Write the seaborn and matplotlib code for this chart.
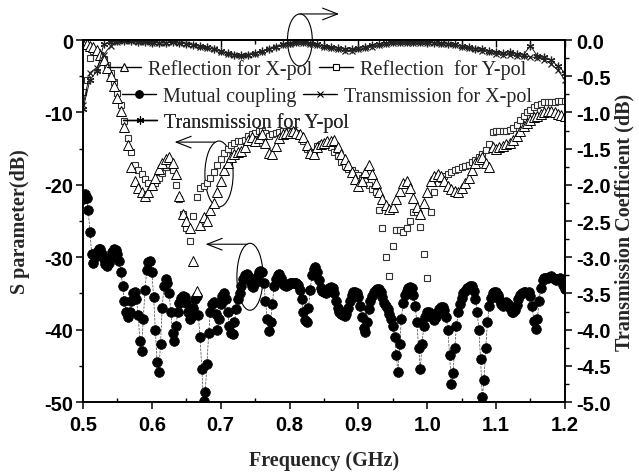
import numpy as np
import matplotlib.pyplot as plt
import seaborn as sns
from matplotlib.lines import Line2D
from matplotlib.patches import Ellipse
from matplotlib.ticker import MultipleLocator, FormatStrFormatter

sns.set_theme(style='ticks')
plt.rcParams['axes.unicode_minus'] = False
plt.rcParams['font.family'] = ['Liberation Sans', 'DejaVu Sans']

# frequency grids (GHz)
freq = np.round(np.linspace(0.5, 1.2, 141), 4)     # reflections
freq_c = np.round(np.linspace(0.5, 1.2, 281), 4)   # mutual coupling
freq_t = np.round(np.linspace(0.5, 1.2, 71), 2)    # transmission

refl_x = [
    -0.5, -0.6, -0.8, -1.0, -1.4, -2.0, -2.8, -3.8, -5.0, -6.4,
    -8.0, -9.8, -12.0, -14.5, -17.5, -19.5, -20.5, -21.0, -21.5, -21.0,
    -20.0, -19.0, -17.8, -17.0, -16.5, -16.2, -17.0, -18.5, -21.5, -24.0,
    -25.0, -26.0, -30.5, -34.7, -25.5, -24.5, -25.0, -23.5, -22.5, -21.0,
    -19.5, -18.0, -17.0, -16.2, -15.8, -15.5, -15.3, -14.8, -13.8, -13.4,
    -14.0, -13.5, -13.0, -14.2, -15.6, -15.8, -14.6, -13.5, -13.0, -12.8,
    -12.8, -12.6, -12.8, -13.0, -13.4, -14.5, -15.6, -15.8, -14.8, -14.4,
    -14.2, -14.0, -14.0, -13.8, -14.8, -15.8, -16.5, -17.2, -18.2, -19.2,
    -20.2, -19.5, -18.2, -17.2, -18.5, -19.8, -21.0, -22.0, -22.8, -23.3,
    -23.0, -22.0, -20.8, -19.8, -19.5, -20.5, -21.8, -23.0, -24.0, -22.5,
    -21.0, -19.5, -18.8, -18.5, -18.8, -19.5, -20.2, -20.6, -20.9, -21.0,
    -20.5, -19.8, -19.0, -18.0, -17.0, -16.4, -16.2, -17.0, -17.5, -14.8,
    -15.0, -14.8, -14.6, -14.4, -14.2, -13.8, -13.2, -12.5, -11.9, -11.4,
    -11.0, -10.7, -10.5, -10.2, -10.0, -9.8, -9.8, -10.0, -10.2, -10.4,
    -10.5]

refl_y = [
    -7.2, -5.5, -2.5, -1.5, -1.6, -2.0, -2.6, -3.4, -4.5, -5.8,
    -7.3, -9.0, -11.2, -13.5, -15.5, -17.2, -18.0, -18.5, -19.2, -19.8,
    -20.3, -19.8, -19.0, -18.3, -17.6, -17.3, -18.0, -20.0, -22.0, -24.0,
    -26.0, -27.8, -24.3, -21.7, -20.5, -20.2, -19.8, -19.0, -18.2, -17.2,
    -16.5, -15.6, -15.0, -14.5, -14.2, -14.0, -14.0, -13.8, -13.3, -13.0,
    -12.8, -12.6, -12.5, -12.8, -13.2, -13.0, -12.8, -12.7, -12.6, -12.5,
    -12.5, -12.6, -12.8, -13.2, -14.0, -15.0, -15.6, -15.4, -14.6, -14.3,
    -14.3, -14.5, -14.8, -15.5, -16.0, -16.8, -17.4, -17.8, -18.0, -18.3,
    -18.6, -19.0, -19.5, -20.0, -20.6, -21.0, -23.5, -26.0, -30.0, -32.6,
    -28.5, -26.2, -26.3, -26.5, -26.0, -25.0, -23.7, -23.8, -25.8, -29.5,
    -32.9, -23.8, -21.0, -19.8, -19.2, -18.8, -18.5, -18.2, -18.0, -17.8,
    -17.6, -17.4, -17.2, -16.9, -16.6, -16.2, -15.8, -15.2, -14.4, -12.7,
    -12.6, -12.6, -12.5, -12.5, -12.4, -12.2, -11.7, -11.1, -10.5, -10.0,
    -9.6, -9.3, -9.0, -8.8, -8.6, -8.5, -8.5, -8.5, -8.4, -8.4,
    -8.4]

coupling = [
    -22.0, -21.3, -21.8, -23.5, -26.5, -29.5, -30.8, -30.0,
    -29.3, -28.9, -28.9, -29.5, -30.3, -31.0, -31.2, -30.8,
    -30.0, -29.3, -28.9, -29.0, -29.6, -30.5, -32.0, -34.0,
    -36.0, -37.6, -38.3, -37.5, -36.0, -35.0, -34.8, -35.8,
    -38.0, -41.5, -43.0, -38.5, -34.5, -31.8, -30.6, -30.5,
    -32.0, -35.5, -40.0, -44.5, -45.9, -42.0, -37.0, -34.0,
    -33.0, -33.5, -35.0, -37.5, -40.5, -41.5, -39.5, -37.5,
    -36.3, -35.6, -35.4, -35.5, -36.3, -37.5, -38.5, -38.3,
    -37.0, -35.8, -35.4, -38.0, -41.0, -45.5, -49.9, -48.6,
    -44.7, -40.5, -37.5, -36.4, -36.2, -37.8, -40.0, -38.5,
    -36.5, -35.3, -35.0, -35.8, -37.5, -39.5, -40.5, -40.6,
    -39.0, -37.2, -35.8, -35.0, -34.0, -33.0, -32.5, -32.3,
    -32.6, -33.3, -34.0, -34.1, -33.5, -32.7, -32.1, -31.9,
    -32.0, -33.5, -36.0, -38.5, -40.2, -39.0, -36.5, -34.0,
    -33.0, -32.5, -32.3, -32.8, -33.5, -33.8, -34.0, -33.8,
    -33.6, -33.5, -33.5, -33.6, -33.5, -33.8, -34.5, -35.8,
    -37.5, -38.6, -39.0, -37.0, -34.5, -32.5, -31.6, -31.4,
    -32.0, -33.2, -34.3, -34.6, -34.8, -34.9, -34.5, -34.2,
    -34.1, -34.3, -35.0, -36.0, -37.0, -37.5, -37.8, -38.0,
    -38.1, -37.8, -37.0, -36.0, -35.2, -34.8, -34.8, -34.9,
    -35.5, -36.8, -38.3, -39.8, -40.3, -39.0, -37.2, -36.0,
    -35.3, -34.8, -34.5, -34.4, -34.4, -34.8, -35.5, -36.3,
    -36.7, -37.2, -37.8, -38.5, -39.5, -41.0, -43.5, -45.9,
    -42.0, -38.5, -36.3, -35.2, -34.6, -34.3, -34.1, -34.3,
    -35.2, -36.8, -39.0, -42.5, -45.4, -42.0, -39.5, -38.2,
    -37.6, -37.5, -37.8, -38.3, -38.6, -38.3, -37.6, -37.1,
    -36.9, -36.9, -37.3, -38.2, -40.0, -43.5, -47.5, -46.0,
    -42.5, -39.5, -37.6, -36.4, -35.6, -35.0, -34.6, -34.3,
    -34.1, -34.0, -34.0, -34.6, -35.8, -37.5, -40.0, -44.0,
    -49.3, -47.0, -42.5, -39.0, -36.8, -35.6, -35.0, -34.8,
    -34.8, -35.2, -35.8, -36.5, -36.7, -36.4, -36.2, -36.4,
    -37.0, -37.5, -37.6, -37.3, -36.6, -35.8, -35.2, -34.9,
    -34.8, -34.8, -34.9, -34.8, -35.3, -36.8, -38.8, -39.9,
    -38.5, -36.0, -34.2, -33.2, -32.9, -32.8, -32.8, -32.7,
    -32.6, -32.8, -33.0, -33.1, -33.0, -32.8, -33.2, -33.8,
    -34.4]

trans_x = [
    -0.90, -0.45, -0.38, -0.20, -0.08, -0.03, -0.02, -0.02, -0.03, -0.03,
    -0.04, -0.04, -0.04, -0.03, -0.04, -0.05, -0.07, -0.09, -0.11, -0.13,
    -0.16, -0.19, -0.21, -0.22, -0.21, -0.19, -0.16, -0.13, -0.10, -0.07,
    -0.05, -0.04, -0.04, -0.05, -0.07, -0.09, -0.11, -0.13, -0.15, -0.15,
    -0.13, -0.11, -0.09, -0.07, -0.05, -0.04, -0.04, -0.04, -0.04, -0.04,
    -0.04, -0.04, -0.05, -0.06, -0.07, -0.09, -0.11, -0.13, -0.15, -0.17,
    -0.19, -0.20, -0.21, -0.22, -0.22, -0.23, -0.25, -0.27, -0.33, -0.42,
    -0.55]

trans_y = [
    -0.95, -0.55, -0.43, -0.06, -0.03, -0.02, -0.02, -0.02, -0.03, -0.03,
    -0.03, -0.04, -0.04, -0.03, -0.04, -0.05, -0.07, -0.08, -0.10, -0.12,
    -0.15, -0.18, -0.20, -0.21, -0.20, -0.18, -0.15, -0.12, -0.09, -0.06,
    -0.04, -0.03, -0.03, -0.04, -0.06, -0.08, -0.10, -0.11, -0.12, -0.12,
    -0.11, -0.09, -0.07, -0.05, -0.04, -0.03, -0.03, -0.03, -0.03, -0.03,
    -0.03, -0.04, -0.04, -0.05, -0.06, -0.08, -0.10, -0.12, -0.13, -0.15,
    -0.17, -0.18, -0.16, -0.19, -0.20, -0.08, -0.22, -0.24, -0.28, -0.36,
    -0.45]

fig = plt.figure(figsize=(6.39, 4.77), dpi=100)
ax = fig.add_axes([0.130, 0.155, 0.754, 0.759])
ax2 = ax.twinx()

sns.lineplot(x=freq_c, y=coupling, ax=ax, color='#444444', lw=0.5, ls='--',
             marker='o', ms=7, mfc='black', mec='black', mew=0.5, sort=False)
sns.lineplot(x=freq, y=refl_y, ax=ax, color='black', lw=0,
             marker='s', ms=5, mfc='white', mec='#333333', mew=0.8, sort=False)
sns.lineplot(x=freq, y=refl_x, ax=ax, color='black', lw=0,
             marker='^', ms=7.5, mfc='white', mec='black', mew=0.7, sort=False)
sns.lineplot(x=freq_t, y=trans_x, ax=ax2, color='black', lw=0.6,
             marker='x', ms=5, mec='#222222', mew=0.9, sort=False)
sns.lineplot(x=freq_t, y=trans_y, ax=ax2, color='black', lw=0.6,
             marker=(6, 2, 0), ms=5.5, mec='#222222', mew=0.9, sort=False)

# axes
ax.set_xlim(0.5, 1.2)
ax.set_ylim(-50, 0)
ax2.set_ylim(-5, 0)
ax.xaxis.set_major_locator(MultipleLocator(0.1))
ax.xaxis.set_minor_locator(MultipleLocator(0.05))
ax.xaxis.set_major_formatter(FormatStrFormatter('%.1f'))
ax.yaxis.set_major_locator(MultipleLocator(10))
ax.yaxis.set_minor_locator(MultipleLocator(5))
ax2.yaxis.set_major_locator(MultipleLocator(0.5))
ax2.yaxis.set_minor_locator(MultipleLocator(0.25))
ax2.yaxis.set_major_formatter(FormatStrFormatter('%.1f'))

for a in (ax, ax2):
    for sp in a.spines.values():
        sp.set_color('black')
        sp.set_linewidth(1.2)

ax.tick_params(axis='x', which='major', direction='out', length=5, width=1.1, colors='black', pad=4)
ax.tick_params(axis='x', which='minor', direction='in', length=3, width=1.0, colors='black')
ax.tick_params(axis='y', which='major', direction='out', length=5, width=1.1, colors='black', pad=2)
ax.tick_params(axis='y', which='minor', direction='out', length=3, width=1.0, colors='black')
ax2.tick_params(axis='y', which='major', direction='out', length=5, width=1.1, colors='black', pad=3)
ax2.tick_params(axis='y', which='minor', direction='out', length=3, width=1.0, colors='black')

top = ax.secondary_xaxis('top')
top.xaxis.set_major_locator(MultipleLocator(0.1))
top.xaxis.set_minor_locator(MultipleLocator(0.05))
top.tick_params(which='both', direction='in', labeltop=False, colors='black', width=1.0)
top.tick_params(which='major', length=5)
top.tick_params(which='minor', length=3)

for lab in ax.get_xticklabels() + ax.get_yticklabels() + ax2.get_yticklabels():
    lab.set_fontweight('bold')
    lab.set_fontsize(14.5)
    lab.set_family('Liberation Sans')

serif_bold = dict(family='Liberation Serif', weight='bold', size=14.5)
ax.set_xlabel('Frequency (GHz)', fontdict=serif_bold, labelpad=12)
ax.set_ylabel('S parameter(dB)', fontdict=serif_bold, labelpad=10)
ax2.set_ylabel('Transmission Coefficient (dB)', fontdict=serif_bold, labelpad=3)

# legend rows
def handle(marker, ms, mfc, mec):
    return Line2D([], [], color='black', lw=1.0, marker=marker, ms=ms, mfc=mfc, mec=mec, mew=0.8)

h_rx = handle('^', 5.5, 'white', 'black')
h_ry = handle('s', 4, 'white', 'black')
h_mc = handle('o', 5.5, 'black', 'black')
h_tx = handle('x', 5, 'black', 'black')
h_ty = handle((6, 2, 0), 5.5, 'black', 'black')

leg_font = dict(family='Liberation Serif', size=14.5)
rows = [([h_rx, h_ry], ['Reflection for X-pol', 'Reflection  for Y-pol'], 107, 70),
        ([h_mc, h_tx], ['Mutual coupling', 'Transmission for X-pol'], 122, 97),
        ([h_ty], ['Transmission for Y-pol'], 123, 123)]
for hs, labs, px, py in rows:
    leg = ax2.legend(hs, labs, ncol=len(hs), loc='center left',
                     bbox_to_anchor=(px / 639, 1 - py / 477), bbox_transform=fig.transFigure,
                     frameon=False, prop=leg_font, handlelength=1.7, handletextpad=0.35,
                     columnspacing=0.3, borderpad=0, borderaxespad=0)
    ax2.add_artist(leg)

# ellipses and arrows
arrow = dict(arrowstyle='->,head_length=0.9,head_width=0.35', lw=0.8, color='black')
ax.add_patch(Ellipse((0.815, 0.0), 0.036, 7.2, fill=False, lw=0.8, ec='black', clip_on=False))
ax.annotate('', xy=(0.876, 3.6), xytext=(0.811, 3.6), arrowprops=arrow, annotation_clip=False)
ax.add_patch(Ellipse((0.6975, -18.5), 0.041, 9.1, fill=False, lw=0.8, ec='black'))
ax.annotate('', xy=(0.629, -14.1), xytext=(0.696, -14.1), arrowprops=arrow)
ax.add_patch(Ellipse((0.7425, -32.7), 0.038, 9.25, fill=False, lw=0.8, ec='black'))
ax.annotate('', xy=(0.674, -28.2), xytext=(0.7425, -28.2), arrowprops=arrow)

fig.savefig('out.png', dpi=100)
